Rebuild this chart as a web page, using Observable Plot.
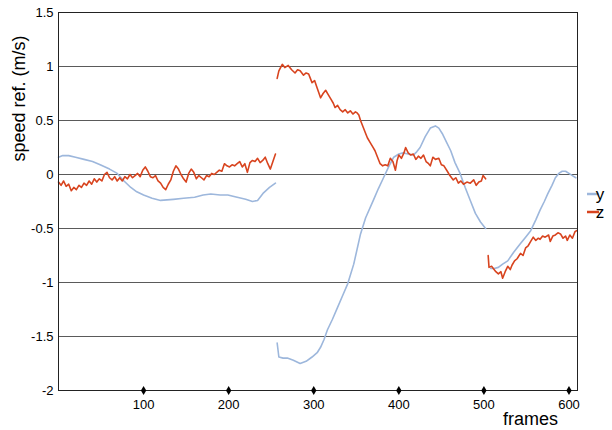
<!DOCTYPE html>
<html>
<head>
<meta charset="utf-8">
<script src="https://cdn.jsdelivr.net/npm/d3@7"></script>
<script src="https://cdn.jsdelivr.net/npm/@observablehq/plot@0.6"></script>
<style>
  html, body { margin: 0; padding: 0; background: #fff; }
  svg { font-family: "Liberation Sans", Arial, Helvetica, sans-serif; }
</style>
</head>
<body>
<div id="chart"></div>
<script>
// ---- data (null = gap in the recording) ----
const yFrames = [0,5,12,20,30,40,49,60,69,77,85,92,100,110,120,135,147,160,170,179,190,199,210,220,228,234,241,248,255,
  null,
  257,259,264,269,276,284,291,298,304,308,312,316,322,328,334,340,347,355,361,370,376,382,388,394,400,405,411,417,421,425,431,437,443,447,451,456,461,466,472,478,484,490,496,502,
  null,
  508,512,517,522,528,535,543,549,555,561,566,571,575,580,584,588,592,596,600,604,608];
const yValues = [0.16,0.175,0.175,0.16,0.14,0.12,0.09,0.05,0.01,-0.06,-0.12,-0.16,-0.19,-0.22,-0.24,-0.23,-0.22,-0.21,-0.19,-0.18,-0.19,-0.19,-0.21,-0.23,-0.25,-0.24,-0.17,-0.12,-0.08,
  null,
  -1.56,-1.69,-1.70,-1.70,-1.72,-1.75,-1.73,-1.69,-1.65,-1.60,-1.53,-1.44,-1.34,-1.23,-1.12,-1.01,-0.83,-0.55,-0.40,-0.24,-0.13,-0.03,0.07,0.16,0.19,0.20,0.19,0.18,0.21,0.25,0.35,0.43,0.45,0.43,0.38,0.30,0.22,0.11,0.01,-0.12,-0.24,-0.36,-0.44,-0.50,
  null,
  -0.87,-0.87,-0.86,-0.83,-0.80,-0.72,-0.64,-0.58,-0.52,-0.42,-0.33,-0.25,-0.18,-0.10,-0.03,0.01,0.03,0.03,0.01,-0.01,-0.03];

const zFrames = [0,3,6,9,12,15,18,21,24,27,30,33,36,39,42,45,48,51,54,57,60,63,66,69,72,75,78,81,84,87,90,93,96,99,102,105,108,111,114,117,120,123,126,129,132,135,138,141,144,147,150,153,156,159,162,165,168,171,174,177,180,183,186,189,192,195,198,201,204,207,210,213,216,219,222,225,228,231,234,237,240,243,246,249,252,255,
  null,
  257,259,263,266,270,274,278,281,284,288,291,294,296,298,301,304,308,311,314,317,320,323,325,328,331,334,337,340,343,346,349,351,353,355,358,361,363,366,369,372,375,378,381,384,387,390,393,396,398,400,403,406,408,411,414,417,420,423,426,429,432,435,437,440,443,447,450,453,457,460,464,467,470,473,476,480,484,488,491,494,497,499,502,
  null,
  505,506,509,512,514,517,520,522,525,528,531,533,536,539,543,546,549,552,555,558,561,564,566,569,572,576,578,581,584,587,590,593,596,598,601,604,607,609];
const zValues = [-0.07,-0.10,-0.06,-0.11,-0.09,-0.15,-0.12,-0.14,-0.10,-0.12,-0.08,-0.10,-0.06,-0.09,-0.04,-0.07,-0.04,-0.06,0.00,0.02,-0.03,-0.05,-0.02,-0.06,-0.03,-0.06,-0.02,-0.04,0.00,-0.03,-0.01,0.01,-0.02,0.04,0.07,0.03,-0.02,-0.03,-0.01,-0.06,-0.08,-0.12,-0.14,-0.09,-0.05,0.03,0.08,0.05,0.00,-0.04,-0.07,0.01,0.05,0.02,-0.04,-0.01,-0.03,-0.05,-0.01,-0.02,0.01,0.00,0.02,0.04,0.03,0.10,0.08,0.07,0.09,0.08,0.10,0.12,0.07,0.10,0.02,0.11,0.13,0.12,0.15,0.11,0.13,0.16,0.10,0.05,0.12,0.19,
  null,
  0.89,0.96,1.02,0.99,1.01,0.97,0.94,0.97,0.96,0.92,0.94,0.93,0.89,0.85,0.87,0.80,0.71,0.75,0.78,0.74,0.70,0.66,0.62,0.64,0.60,0.58,0.60,0.57,0.59,0.56,0.58,0.57,0.55,0.50,0.44,0.38,0.34,0.30,0.26,0.22,0.16,0.10,0.08,0.09,0.08,0.15,0.12,0.04,0.13,0.18,0.15,0.20,0.25,0.20,0.18,0.19,0.14,0.17,0.15,0.18,0.12,0.10,0.08,0.16,0.14,0.15,0.09,0.08,0.03,-0.01,-0.05,-0.03,-0.08,-0.06,-0.09,-0.07,-0.08,-0.05,-0.10,-0.07,-0.06,-0.01,-0.04,
  null,
  -0.75,-0.86,-0.85,-0.88,-0.90,-0.92,-0.90,-0.96,-0.90,-0.85,-0.88,-0.84,-0.80,-0.78,-0.73,-0.75,-0.68,-0.66,-0.62,-0.58,-0.61,-0.59,-0.60,-0.57,-0.58,-0.56,-0.62,-0.57,-0.56,-0.54,-0.55,-0.59,-0.57,-0.61,-0.56,-0.59,-0.53,-0.52];

const xTicks = [100, 200, 300, 400, 500, 600];
const yTicks = [1.5, 1, 0.5, 0, -0.5, -1, -1.5, -2];
const gridValues = [1, 0.5, 0, -0.5, -1, -1.5];
const seriesNames = ["y", "z"];
const seriesColors = ["#9db7dc", "#d8441f"];

const ySeries = yFrames.map((f, i) => ({frame: f, v: yValues[i]}));
const zSeries = zFrames.map((f, i) => ({frame: f, v: zValues[i]}));

const plot = Plot.plot({
  width: 612,
  height: 430,
  marginLeft: 58,
  marginRight: 35,
  marginTop: 12,
  marginBottom: 40,
  style: {fontFamily: '"Liberation Sans", Arial, sans-serif', fontSize: "13px", background: "#fff"},
  x: {domain: [0, 610], ticks: xTicks, tickSize: 0, tickPadding: 9, label: null, tickFormat: d => String(d)},
  y: {domain: [-2, 1.5], ticks: yTicks, tickSize: 0, tickPadding: 5, label: null, tickFormat: d => String(d)},
  marks: [
    Plot.ruleY(gridValues, {stroke: "#5a5a5a", strokeWidth: 1, strokeOpacity: 1}),
    Plot.line(ySeries, {x: "frame", y: "v", stroke: seriesColors[0], strokeWidth: 1.6, curve: "linear"}),
    Plot.line(zSeries, {x: "frame", y: "v", stroke: seriesColors[1], strokeWidth: 1.6, curve: "linear"}),
    Plot.frame({stroke: "#222", strokeWidth: 1}),
    Plot.dot(xTicks, {x: d => d, y: () => -2, symbol: "diamond", r: 2.8, fill: "#000", stroke: "none"}),
    Plot.text(["speed ref. (m/s)"], {frameAnchor: "top-left", dx: -46, dy: 86, rotate: -90, fontSize: 18, fill: "#000", textAnchor: "middle"}),
    Plot.text(["frames"], {frameAnchor: "bottom-right", dx: -47, dy: 34, fontSize: 18, fill: "#000", textAnchor: "middle"})
  ]
});

// legend (decoration drawn in the outer margin)
const svg = d3.select(plot);
const lg = svg.append("g").attr("font-family", '"Liberation Sans", Arial, sans-serif').attr("font-size", 17);
seriesNames.forEach((name, i) => {
  const yy = 194 + i * 18;
  lg.append("line").attr("x1", 587).attr("x2", 599).attr("y1", yy).attr("y2", yy)
    .attr("stroke", seriesColors[i]).attr("stroke-width", 2.5);
  lg.append("text").attr("x", 600).attr("y", yy).attr("dy", "0.35em").text(name).attr("fill", "#000");
});

document.getElementById("chart").appendChild(plot);
</script>
</body>
</html>
